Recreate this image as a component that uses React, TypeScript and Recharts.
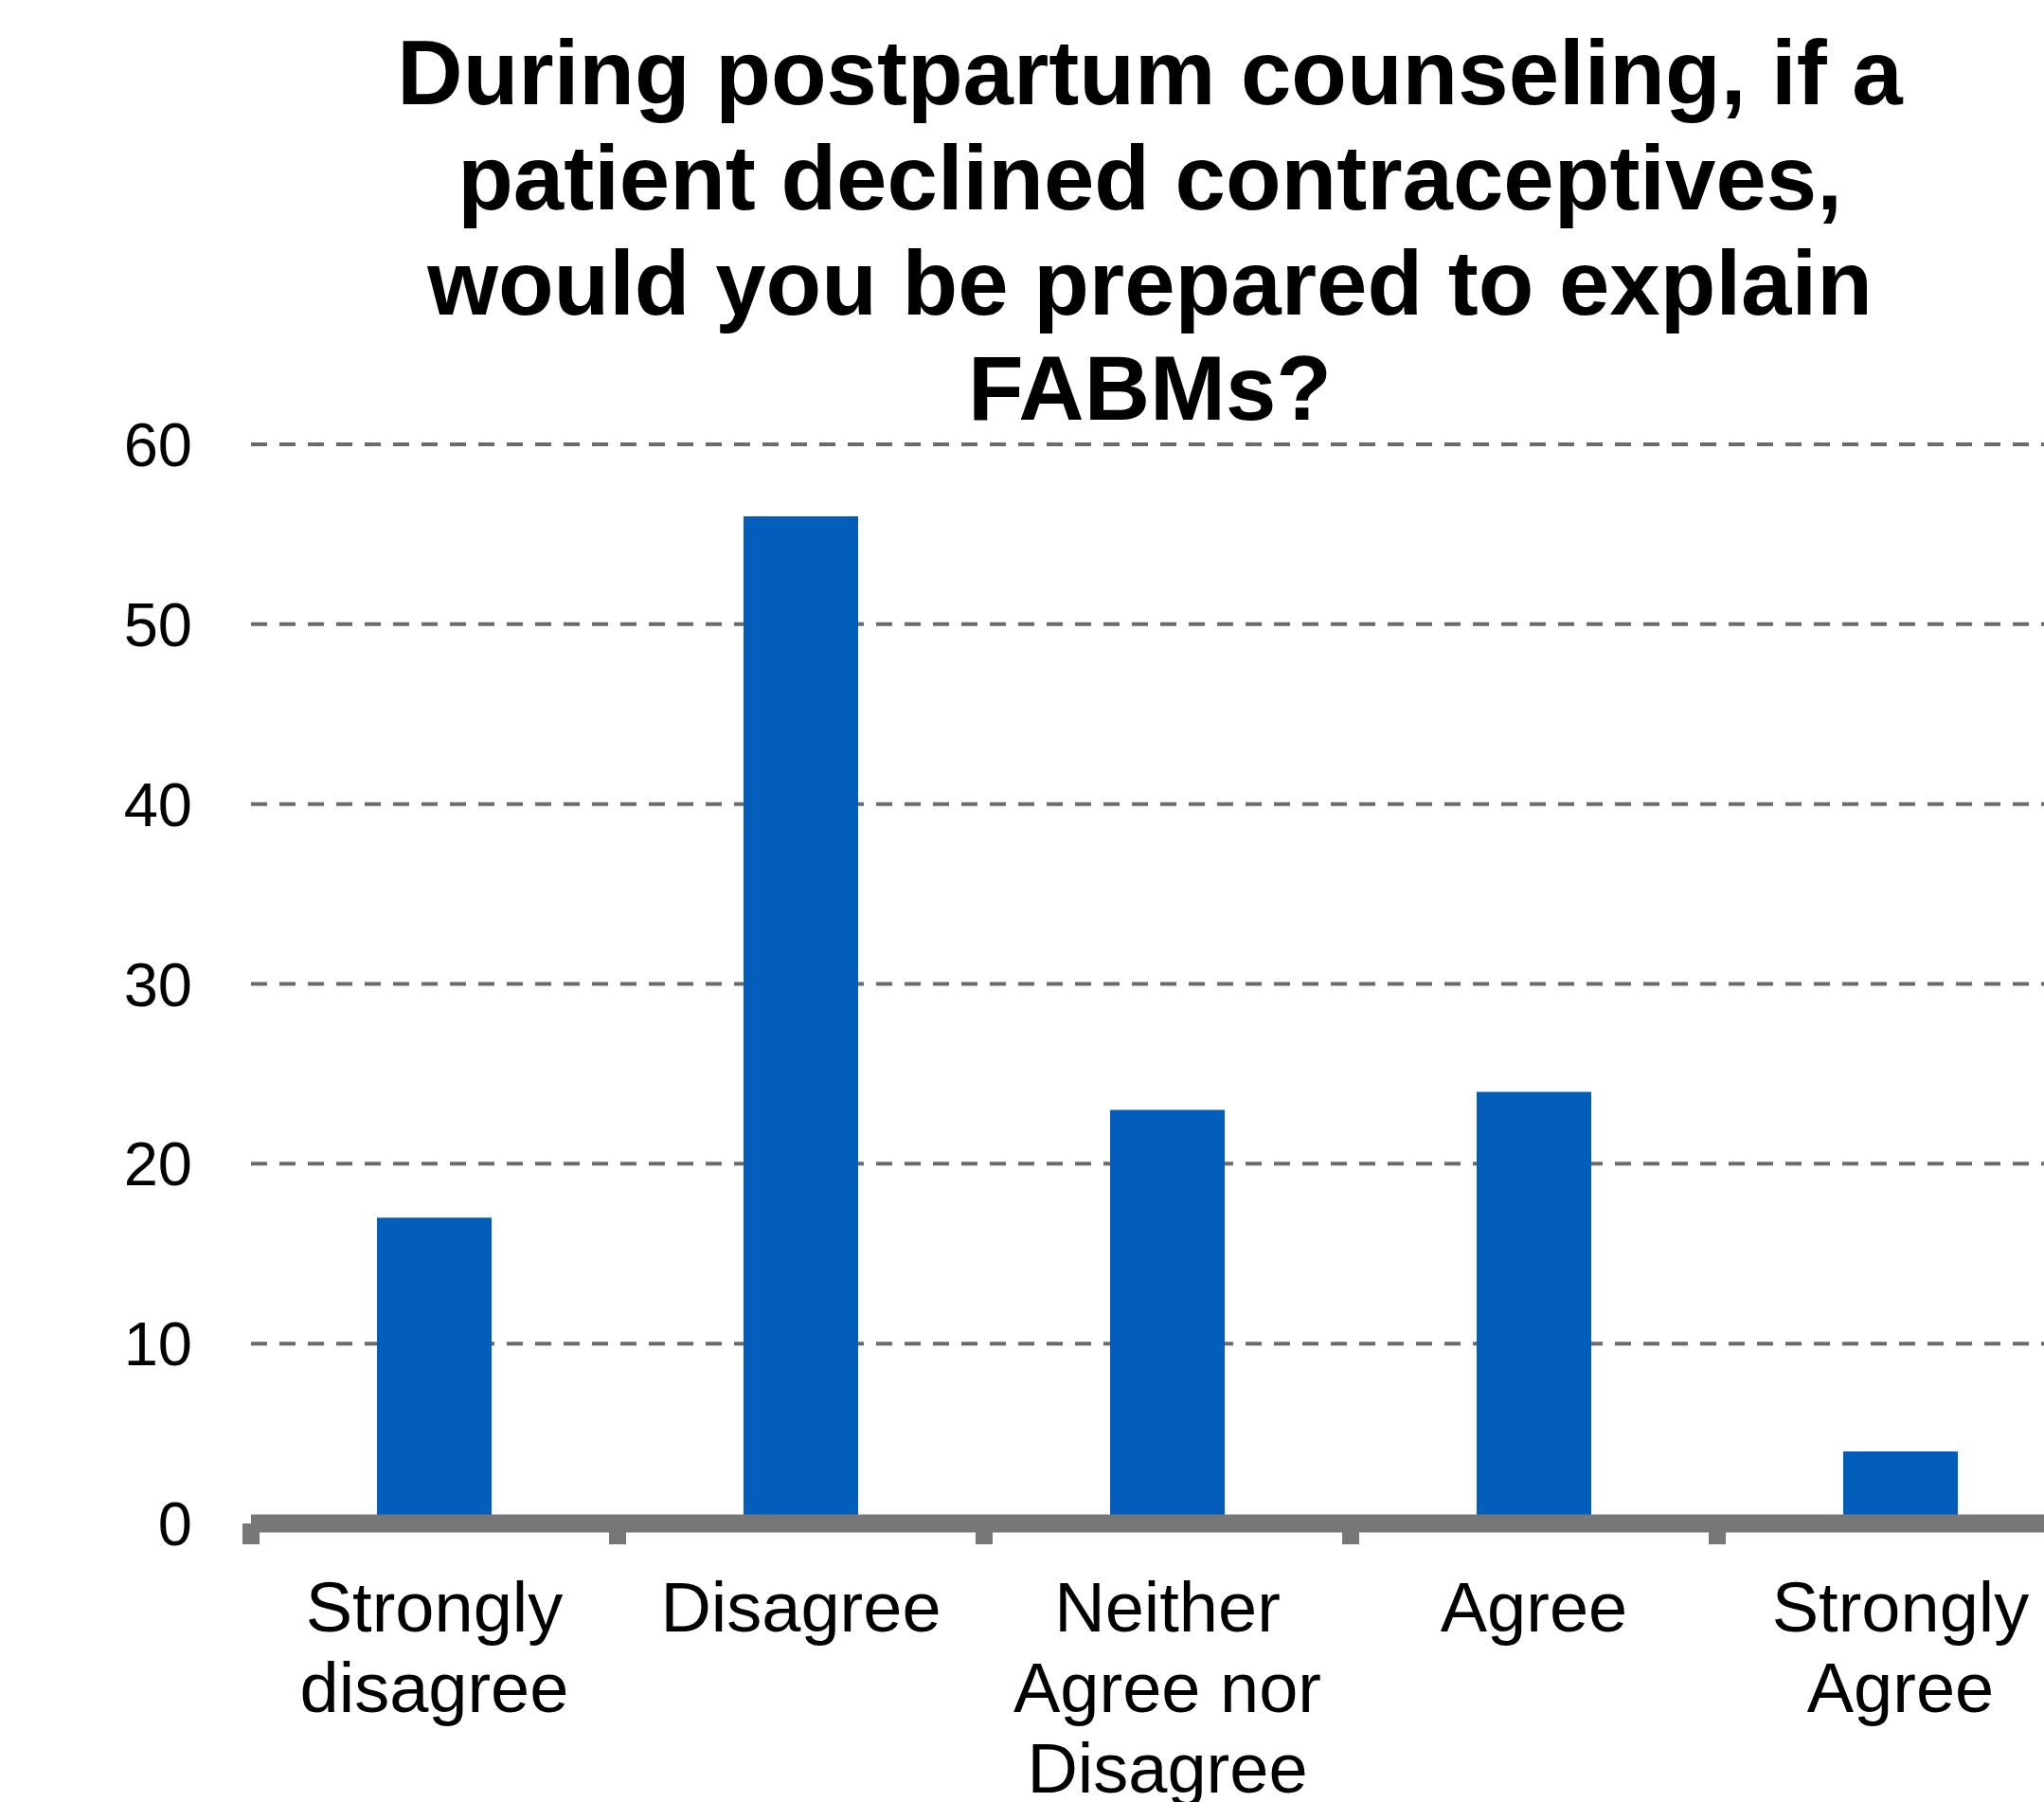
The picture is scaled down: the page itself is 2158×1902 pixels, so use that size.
import { BarChart, Bar, XAxis, YAxis, CartesianGrid } from 'recharts'

const categories = [
  'Strongly\ndisagree',
  'Disagree',
  'Neither\nAgree nor\nDisagree',
  'Agree',
  'Strongly\nAgree',
]
const responses = [17, 56, 23, 24, 4]
const yTicks = [0, 10, 20, 30, 40, 50, 60]
const titleLines = [
  'During postpartum counseling, if a',
  'patient declined contraceptives,',
  'would you be prepared to explain',
  'FABMs?',
]

const FONT = '"Liberation Sans", Arial, Helvetica, sans-serif'
const BAR_COLOR = '#035DBB'
const AXIS_COLOR = '#777777'
const BAND = 387

const data = categories.map((name, i) => ({ name, value: responses[i] }))

function CategoryTick(props: any) {
  const { x, y, payload } = props
  const lines = String(payload.value).split('\n')
  return (
    <g>
      <rect x={x - BAND / 2 - 9} y={y} width={18} height={22} fill={AXIS_COLOR} />
      <text
        x={x}
        y={y + 114}
        textAnchor="middle"
        fontFamily={FONT}
        fontSize={74}
        fill="#000"
      >
        {lines.map((line, i) => (
          <tspan key={i} x={x} dy={i === 0 ? 0 : 85}>
            {line}
          </tspan>
        ))}
      </text>
    </g>
  )
}

export default function App() {
  return (
    <div
      style={{
        position: 'absolute',
        left: 0,
        top: 0,
        width: 2158,
        height: 1902,
        overflow: 'hidden',
        background: '#fff',
      }}
    >
      <BarChart
        width={2200}
        height={1902}
        data={data}
        margin={{ top: 469, right: 0, bottom: 0, left: 0 }}
      >
        <CartesianGrid
          vertical={false}
          stroke="#6b6b6b"
          strokeWidth={4}
          strokeDasharray="17 13"
        />
        <YAxis
          width={265}
          domain={[0, 60]}
          ticks={yTicks}
          axisLine={false}
          tickLine={false}
          tickSize={0}
          tickMargin={62}
          tick={{ fontSize: 65, fill: '#000', fontFamily: FONT }}
        />
        <Bar dataKey="value" fill={BAR_COLOR} barSize={121} isAnimationActive={false} />
        <XAxis
          dataKey="name"
          height={294}
          interval={0}
          axisLine={{ stroke: AXIS_COLOR, strokeWidth: 19 }}
          tickLine={false}
          tickSize={0}
          tickMargin={0}
          tick={<CategoryTick />}
        />
      </BarChart>
      <div
        style={{
          position: 'absolute',
          left: 214,
          top: 21,
          width: 2000,
          textAlign: 'center',
          fontFamily: FONT,
          fontWeight: 'bold',
          fontSize: 96,
          lineHeight: '111px',
          color: '#000',
        }}
      >
        {titleLines.map((line) => (
          <div key={line}>{line}</div>
        ))}
      </div>
    </div>
  )
}
